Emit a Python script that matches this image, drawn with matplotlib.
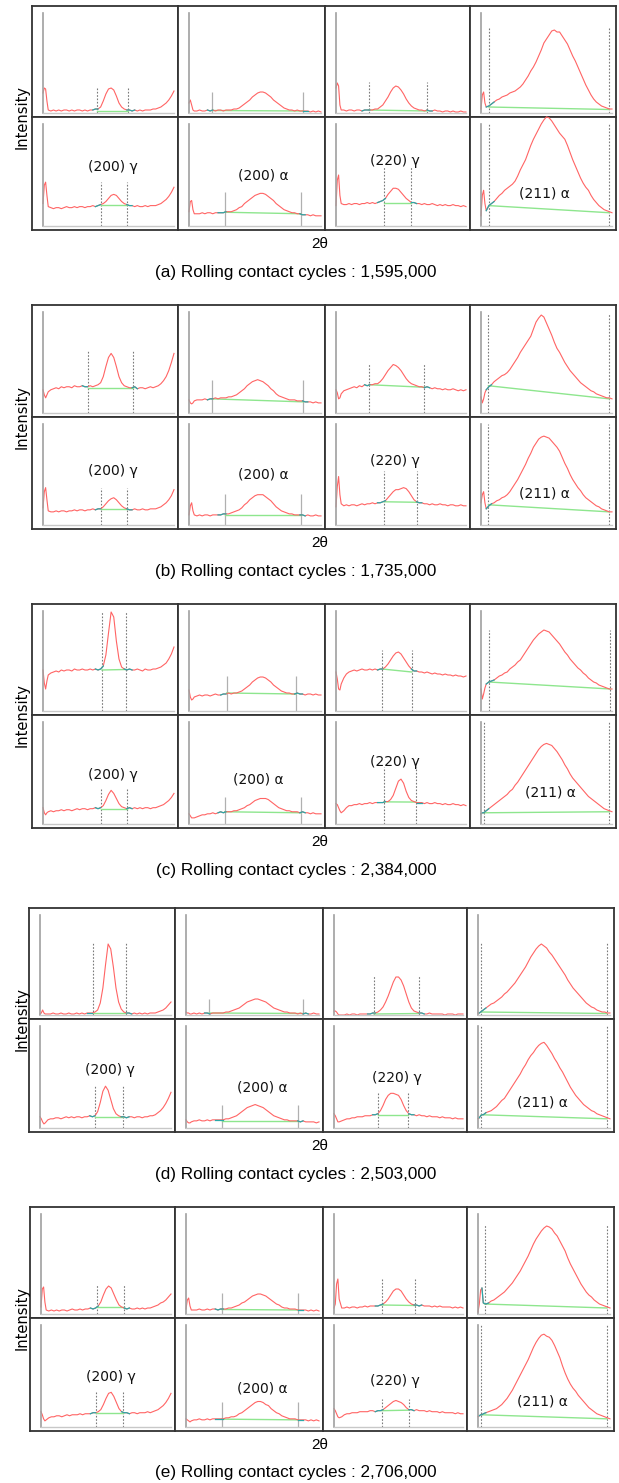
import numpy as np
import matplotlib.pyplot as plt

W, H = 619, 1483

# common 2theta grid of every window (0-100 = width of the inner axis)
X = [0, 1, 2, 3, 4] + list(range(6, 101, 2))

CYCLES = ['1,595,000', '1,735,000', '2,384,000', '2,503,000', '2,706,000']
LETTERS = ['a', 'b', 'c', 'd', 'e']
LABELS = ['(200) γ', '(200) α', '(220) γ', '(211) α']

# intensity, one list per window (4 windows per row)
a_top = [
    [20, 25, 24, 12, 3, 2, 3, 2, 3, 2, 3, 3, 2, 3, 2, 3, 3, 2, 3, 2, 3, 3, 4,
     4, 6, 12, 19, 24, 25, 23, 17, 10, 6, 4, 3, 3, 2, 3, 2, 3, 2, 3, 3, 3, 4, 4, 5, 6, 8, 10, 13, 17, 22],
    [10, 13, 8, 3, 2, 2, 3, 2, 2, 3, 2, 3, 2, 3, 3, 2, 3, 3, 3, 4, 4, 5, 7,
     9, 11, 13, 16, 18, 20, 21, 21, 20, 18, 16, 13, 11, 9, 7, 5, 4, 3, 3, 2, 3, 2, 2, 2, 2, 1, 2, 1, 2, 1],
    [25, 30, 27, 8, 3, 3, 2, 3, 3, 2, 3, 3, 2, 3, 3, 3, 3, 4, 4, 6, 8, 12, 16,
     21, 25, 27, 26, 23, 19, 14, 10, 7, 5, 4, 3, 3, 2, 3, 2, 2, 3, 2, 2, 1, 2, 2, 1, 2, 1, 1, 2, 1, 1],
    [4, 18, 21, 10, 6, 7, 9, 11, 13, 14, 16, 17, 18, 20, 21, 22, 24, 26, 29, 33, 37, 42, 46,
     51, 57, 63, 70, 74, 78, 82, 83, 81, 81, 77, 73, 69, 63, 57, 52, 46, 40, 34, 28, 23, 18, 14, 11, 9, 7, 6, 5, 4, 4],
]
a_bot = [
    [22, 40, 43, 30, 19, 18, 17, 18, 18, 17, 18, 19, 18, 18, 19, 18, 19, 19, 18, 19, 19, 20, 19,
     20, 21, 22, 24, 27, 30, 31, 30, 27, 24, 22, 21, 20, 20, 19, 20, 19, 19, 20, 19, 20, 20, 20, 21, 22, 24, 26, 29, 33, 38],
    [14, 24, 25, 16, 12, 12, 12, 13, 12, 13, 13, 12, 13, 13, 13, 13, 14, 14, 14, 15, 16, 18, 19,
     22, 24, 26, 28, 30, 31, 32, 32, 31, 29, 27, 25, 22, 20, 18, 16, 15, 14, 13, 13, 12, 12, 11, 11, 11, 10, 11, 10, 10, 10],
    [20, 45, 50, 30, 22, 21, 21, 22, 21, 22, 22, 21, 22, 22, 23, 22, 23, 22, 23, 24, 25, 27, 31,
     34, 37, 37, 36, 33, 30, 27, 25, 23, 23, 22, 22, 21, 22, 21, 21, 22, 21, 20, 21, 20, 21, 20, 20, 21, 20, 20, 19, 20, 19],
    [10, 30, 35, 22, 15, 20, 22, 24, 27, 30, 32, 35, 37, 39, 41, 44, 49, 55, 60, 65, 72, 79, 85,
     90, 95, 100, 104, 107, 106, 103, 99, 95, 91, 88, 85, 79, 72, 65, 59, 53, 47, 42, 38, 35, 30, 26, 23, 20, 18, 16, 15, 14, 13],
]
b_top = [
    [23, 18, 15, 18, 21, 23, 24, 25, 24, 26, 25, 26, 26, 25, 27, 26, 26, 27, 26, 26, 27, 26, 27,
     28, 30, 36, 46, 55, 59, 55, 46, 36, 30, 27, 26, 25, 25, 26, 24, 25, 25, 24, 25, 26, 25, 26, 27, 29, 32, 36, 42, 50, 59],
    [13, 10, 9, 10, 12, 13, 13, 13, 14, 13, 14, 14, 15, 14, 15, 15, 15, 16, 16, 17, 18, 20, 22,
     24, 27, 29, 31, 32, 33, 32, 31, 29, 27, 24, 22, 19, 17, 16, 15, 14, 13, 13, 13, 12, 12, 12, 11, 11, 11, 10, 11, 10, 10],
    [23, 20, 14, 15, 19, 22, 23, 24, 25, 26, 25, 27, 26, 28, 27, 28, 28, 29, 29, 31, 34, 38, 42,
     45, 48, 47, 45, 42, 38, 34, 31, 29, 28, 27, 26, 26, 25, 26, 25, 24, 25, 24, 24, 23, 24, 23, 23, 24, 23, 22, 23, 22, 23],
    [16, 10, 14, 20, 23, 26, 28, 31, 33, 35, 37, 38, 40, 43, 47, 51, 55, 60, 64, 68, 72, 76, 83,
     90, 94, 97, 95, 89, 83, 77, 70, 64, 60, 55, 50, 46, 42, 39, 36, 33, 30, 28, 26, 24, 22, 21, 19, 18, 17, 16, 15, 15, 14],
]
b_bot = [
    [17, 33, 37, 25, 14, 13, 13, 14, 13, 14, 14, 13, 14, 14, 15, 14, 15, 15, 14, 15, 15, 16, 15,
     16, 16, 18, 21, 24, 26, 27, 25, 22, 19, 17, 16, 15, 15, 16, 15, 15, 16, 15, 15, 16, 16, 16, 17, 18, 20, 22, 25, 29, 35],
    [10, 19, 22, 14, 10, 9, 10, 9, 10, 10, 9, 10, 10, 10, 10, 11, 11, 11, 12, 13, 14, 15, 17,
     20, 22, 25, 27, 29, 30, 30, 30, 28, 26, 24, 21, 18, 16, 14, 13, 12, 11, 11, 10, 10, 10, 10, 9, 10, 9, 9, 10, 9, 9],
    [18, 38, 48, 30, 21, 19, 20, 19, 20, 20, 19, 20, 21, 20, 21, 21, 22, 21, 22, 22, 23, 24, 27,
     30, 33, 35, 35, 36, 37, 36, 33, 29, 25, 23, 22, 22, 21, 21, 20, 21, 20, 20, 21, 20, 20, 19, 20, 20, 19, 19, 20, 19, 19],
    [22, 30, 33, 22, 16, 19, 21, 22, 24, 25, 27, 28, 30, 33, 37, 41, 45, 50, 55, 60, 66, 71, 77,
     81, 85, 87, 88, 87, 86, 83, 80, 77, 73, 67, 61, 56, 50, 45, 41, 37, 34, 30, 27, 25, 23, 21, 19, 18, 16, 15, 14, 13, 13],
]
c_top = [
    [41, 28, 22, 30, 36, 38, 39, 40, 39, 41, 40, 41, 41, 40, 42, 41, 41, 42, 41, 41, 42, 41, 42,
     41, 42, 45, 56, 78, 99, 94, 70, 52, 44, 42, 41, 42, 41, 41, 42, 41, 40, 42, 41, 41, 42, 42, 43, 44, 46, 48, 52, 57, 64],
    [21, 14, 11, 12, 14, 15, 16, 15, 16, 16, 15, 16, 17, 16, 16, 17, 17, 18, 17, 18, 18, 19, 20,
     22, 24, 26, 29, 31, 33, 34, 34, 33, 31, 29, 26, 24, 22, 20, 19, 18, 18, 17, 17, 18, 17, 17, 16, 17, 17, 16, 17, 16, 16],
    [39, 32, 22, 21, 27, 33, 37, 39, 40, 41, 40, 41, 42, 41, 41, 42, 41, 42, 41, 42, 42, 44, 47,
     51, 55, 58, 59, 57, 53, 49, 45, 42, 40, 40, 39, 39, 38, 39, 38, 37, 38, 37, 37, 36, 37, 36, 36, 35, 36, 35, 35, 34, 35],
    [22, 12, 17, 23, 27, 29, 30, 31, 33, 35, 36, 38, 39, 42, 44, 46, 49, 51, 55, 59, 63, 67, 71,
     74, 77, 79, 81, 80, 79, 76, 73, 70, 67, 63, 59, 56, 52, 49, 46, 43, 41, 38, 36, 33, 31, 29, 28, 26, 25, 24, 23, 22, 22],
]
c_bot = [
    [16, 11, 9, 11, 12, 13, 12, 13, 13, 14, 13, 14, 14, 13, 14, 15, 14, 15, 15, 14, 15, 15, 16,
     15, 16, 18, 23, 29, 33, 30, 25, 20, 17, 16, 15, 16, 15, 16, 15, 16, 15, 16, 16, 15, 16, 16, 17, 18, 19, 21, 23, 26, 30],
    [10, 8, 6, 6, 6, 7, 8, 9, 9, 10, 10, 11, 10, 11, 12, 11, 12, 12, 12, 13, 13, 14, 15,
     16, 18, 19, 21, 23, 24, 25, 25, 25, 24, 22, 20, 18, 16, 15, 14, 13, 13, 12, 12, 12, 11, 12, 11, 11, 10, 11, 10, 10, 10],
    [20, 19, 16, 13, 11, 13, 16, 18, 18, 19, 19, 20, 19, 20, 20, 21, 20, 21, 21, 21, 21, 22, 22,
     24, 28, 35, 42, 44, 40, 32, 26, 23, 22, 21, 21, 21, 20, 21, 20, 20, 21, 20, 20, 19, 20, 19, 19, 20, 19, 19, 18, 19, 18],
    [10, 11, 11, 12, 13, 15, 17, 19, 21, 23, 25, 27, 29, 32, 34, 38, 41, 45, 49, 53, 57, 61, 65,
     69, 73, 76, 78, 79, 78, 77, 74, 71, 67, 63, 58, 54, 49, 45, 42, 39, 36, 33, 30, 27, 25, 23, 21, 19, 17, 15, 14, 13, 12],
]
d_top = [
    [1, 2, 5, 2, 1, 1, 1, 2, 1, 1, 2, 1, 1, 2, 1, 1, 2, 1, 2, 1, 2, 2, 2,
     3, 5, 12, 27, 50, 71, 66, 48, 27, 13, 6, 3, 2, 2, 1, 2, 1, 2, 1, 2, 1, 2, 2, 2, 3, 4, 5, 7, 10, 13],
    [3, 2, 2, 1, 1, 2, 1, 2, 1, 2, 2, 1, 2, 2, 2, 2, 2, 3, 3, 4, 5, 6, 7,
     9, 11, 13, 14, 15, 16, 16, 15, 14, 13, 11, 9, 7, 6, 5, 4, 3, 3, 2, 2, 2, 1, 2, 1, 2, 1, 1, 2, 1, 1],
    [4, 4, 3, 1, 0, 0, 0, 1, 0, 1, 1, 0, 1, 1, 1, 1, 1, 2, 2, 3, 5, 8, 13,
     19, 26, 33, 38, 38, 35, 29, 21, 13, 7, 4, 3, 2, 2, 1, 1, 2, 1, 1, 1, 1, 1, 0, 1, 1, 1, 0, 1, 1, 1],
    [2, 2, 3, 4, 5, 7, 9, 11, 12, 14, 16, 18, 21, 23, 26, 29, 32, 36, 40, 44, 48, 53, 58,
     62, 66, 69, 71, 69, 67, 63, 60, 56, 52, 48, 44, 40, 35, 31, 27, 24, 21, 18, 15, 12, 10, 8, 7, 5, 4, 3, 3, 2, 2],
]
d_bot = [
    [11, 9, 6, 4, 5, 8, 9, 9, 10, 10, 9, 10, 11, 10, 11, 10, 11, 11, 10, 11, 11, 12, 11,
     12, 16, 25, 36, 41, 37, 28, 19, 14, 12, 11, 11, 10, 11, 11, 10, 11, 11, 10, 11, 11, 12, 12, 13, 15, 17, 20, 24, 29, 35],
    [8, 6, 5, 5, 6, 7, 7, 8, 7, 7, 8, 7, 8, 8, 8, 8, 8, 9, 9, 10, 11, 12, 14,
     16, 18, 20, 21, 22, 23, 22, 21, 20, 18, 16, 14, 12, 11, 10, 9, 8, 8, 7, 7, 7, 7, 6, 7, 6, 6, 6, 6, 5, 6],
    [14, 12, 9, 6, 6, 7, 8, 9, 9, 10, 10, 11, 11, 11, 12, 12, 12, 13, 13, 14, 17, 22, 28,
     32, 34, 34, 33, 32, 28, 22, 17, 14, 13, 13, 12, 13, 12, 12, 11, 12, 11, 11, 11, 10, 11, 10, 10, 10, 9, 10, 9, 9, 9],
    [9, 10, 12, 13, 13, 15, 16, 17, 19, 21, 24, 27, 29, 33, 37, 41, 45, 49, 53, 58, 62, 67, 71,
     74, 78, 81, 83, 84, 81, 77, 73, 68, 64, 59, 55, 50, 45, 40, 36, 32, 29, 26, 23, 21, 19, 17, 16, 14, 13, 12, 11, 10, 9],
]
e_top = [
    [7, 25, 27, 12, 4, 3, 4, 3, 4, 3, 4, 4, 3, 4, 5, 4, 4, 5, 4, 5, 5, 6, 5,
     6, 8, 12, 19, 25, 28, 26, 20, 14, 9, 7, 6, 5, 6, 5, 5, 6, 5, 6, 5, 6, 6, 7, 8, 9, 11, 12, 14, 17, 20],
    [5, 14, 16, 8, 4, 4, 4, 5, 4, 4, 5, 4, 5, 5, 4, 5, 5, 5, 6, 6, 7, 8, 9,
     11, 12, 14, 16, 18, 19, 20, 20, 19, 18, 16, 14, 12, 10, 9, 7, 6, 6, 5, 5, 5, 4, 4, 4, 4, 3, 4, 3, 4, 3],
    [6, 10, 30, 35, 15, 6, 6, 7, 6, 7, 7, 6, 7, 7, 8, 7, 8, 8, 8, 8, 9, 10, 12,
     15, 19, 23, 25, 25, 23, 19, 15, 12, 10, 9, 9, 8, 9, 8, 8, 8, 7, 8, 7, 8, 7, 7, 7, 7, 6, 7, 6, 7, 6],
    [2, 10, 24, 26, 11, 10, 11, 13, 14, 16, 18, 20, 22, 25, 28, 31, 35, 39, 43, 48, 53, 58, 64,
     70, 75, 79, 83, 86, 88, 87, 85, 81, 78, 73, 68, 63, 56, 50, 45, 40, 35, 30, 26, 22, 19, 17, 14, 12, 10, 9, 8, 7, 6],
]
e_bot = [
    [15, 12, 8, 6, 7, 9, 10, 10, 11, 11, 10, 11, 12, 11, 12, 12, 12, 13, 12, 13, 13, 13, 14,
     14, 15, 17, 22, 28, 33, 34, 30, 24, 18, 15, 14, 14, 13, 14, 14, 13, 14, 14, 14, 15, 14, 15, 16, 17, 19, 21, 24, 28, 33],
    [8, 7, 6, 5, 6, 7, 7, 8, 7, 7, 8, 7, 8, 8, 8, 8, 8, 9, 9, 10, 10, 11, 13,
     14, 16, 18, 20, 22, 24, 25, 25, 24, 22, 21, 18, 16, 14, 13, 11, 10, 9, 8, 8, 8, 7, 7, 7, 7, 6, 7, 6, 7, 6],
    [18, 16, 13, 10, 9, 10, 12, 13, 13, 14, 14, 14, 15, 15, 15, 15, 16, 16, 15, 16, 16, 17, 19,
     21, 23, 25, 26, 25, 24, 22, 19, 17, 17, 16, 17, 16, 16, 16, 15, 16, 15, 15, 15, 14, 15, 14, 14, 14, 14, 13, 14, 13, 13],
    [10, 11, 12, 12, 13, 14, 15, 16, 17, 18, 20, 22, 25, 28, 32, 36, 41, 46, 51, 56, 61, 66, 72,
     78, 83, 87, 90, 91, 89, 88, 85, 80, 74, 68, 60, 53, 47, 42, 38, 35, 31, 28, 25, 22, 19, 17, 15, 13, 12, 11, 10, 9, 8],
]

# integration window: (left bound, right bound, height of the marker lines)
a_win = [[(41.5, 65, 26), (17.5, 86.7, 21), (25, 70, 31), (6, 98, 85)],
         [(44, 64, 43), (27, 84.6, 33), (37, 58, 58), (6, 98, 100)]]
b_win = [[(34, 68.7, 61), (17.5, 86.7, 33), (25.5, 67.7, 49), (5.7, 98, 98)],
         [(44, 64, 37), (27, 84.6, 31), (37, 62, 53), (5.7, 98, 100)]]
c_win = [[(45, 63, 100), (28.5, 81, 35), (35.4, 58.3, 61), (6, 98.8, 81)],
         [(44, 64, 34), (27, 84.8, 26), (37, 61.6, 56), (2, 98, 100)]]
d_win = [[(40.7, 65.6, 73), (17.3, 88, 16), (31, 65.6, 40), (2.5, 97.7, 73)],
         [(42, 63, 41), (27, 84, 23), (34, 57.7, 34), (2.5, 97.7, 100)]]
e_win = [[(43, 63.6, 29), (27, 84, 21), (37, 63, 36), (5, 97.7, 90)],
         [(42, 63, 35), (27, 84, 25), (37, 58, 27), (2.5, 97.7, 100)]]

# background line (y at left bound, y at right bound)
a_bg = [[(2.5, 2.5), (2.5, 2), (3, 2), (6, 3.5)], [(21, 21), (13.5, 12), (23, 23), (20, 13)]]
b_bg = [[(25, 25), (14, 11), (28, 25.5), (27, 14)], [(15.5, 15.5), (10, 10), (23, 22.5), (20, 13)]]
c_bg = [[(41, 41.5), (18, 17), (42, 39), (29, 22)], [(15, 15), (12, 11), (21.7, 21.5), (11, 12)]]
d_bg = [[(2, 2), (2, 1.5), (1, 1.5), (3, 1.5)], [(11, 11), (7, 7), (13, 13), (13, 9)]]
e_bg = [[(6.7, 6.7), (4.5, 4), (9, 8.5), (10, 6)], [(14, 14), (7.7, 7), (16, 16.5), (12, 8)]]

SPECTRA = [(a_top, a_bot), (b_top, b_bot), (c_top, c_bot), (d_top, d_bot), (e_top, e_bot)]
WINDOWS = [a_win, b_win, c_win, d_win, e_win]
BACKGR = [a_bg, b_bg, c_bg, d_bg, e_bg]

# layout in pixels: left, right, top, middle, bottom, column cuts
BLOCKS = [
    (32, 616, 6, 117, 230, [178, 325, 470]),
    (32, 616, 305, 417, 529, [178, 325, 470]),
    (32, 616, 604, 715, 828, [178, 325, 470]),
    (29, 614, 908, 1019, 1132, [175, 323, 467]),
    (30, 614, 1207, 1318, 1431, [175, 323, 467]),
]
# label centres as fraction of the lower windows (from left, from top)
LABEL_POS = [
    [(.555, .44), (.58, .52), (.48, .39), (.51, .68)],
    [(.555, .48), (.58, .51), (.48, .39), (.51, .68)],
    [(.555, .53), (.545, .57), (.48, .42), (.55, .69)],
    [(.555, .45), (.59, .61), (.51, .52), (.51, .74)],
    [(.555, .52), (.59, .62), (.50, .56), (.51, .74)],
]

RED = '#ff6464'
GREEN = '#8ee68e'
CYAN = '#2aa8a8'


def box(x0, y0, x1, y1):
    return [x0 / W, 1 - y1 / H, (x1 - x0) / W, (y1 - y0) / H]


fig = plt.figure(figsize=(W / 100, H / 100), dpi=100)
xa = np.array(X)

for bi, (left, right, top, mid, bot, cuts) in enumerate(BLOCKS):
    edges = [left] + cuts + [right]
    rows = [(top, mid), (mid, bot)]
    for r in range(2):
        for c in range(4):
            px0, px1 = edges[c], edges[c + 1]
            py0, py1 = rows[r]
            outer = fig.add_axes(box(px0, py0, px1, py1))
            outer.set_xticks([])
            outer.set_yticks([])
            for s in outer.spines.values():
                s.set_color('#333333')
                s.set_linewidth(1.3)

            ax = fig.add_axes(box(px0 + 11, py0 + 7, px1 - 4, py1 - 4))
            ax.patch.set_alpha(0)
            ax.set_xlim(0, 100)
            ax.set_ylim(0, 100)
            ax.set_xticks([])
            ax.set_yticks([])
            ax.spines['top'].set_visible(False)
            ax.spines['right'].set_visible(False)
            ax.spines['left'].set_color('#a0a0a0')
            ax.spines['left'].set_linewidth(1.2)
            ax.spines['bottom'].set_color('#c8c8c8')
            ax.spines['bottom'].set_linewidth(1.0)

            ya = np.array(SPECTRA[bi][r][c])
            l1, l2, hgt = WINDOWS[bi][r][c]
            yb1, yb2 = BACKGR[bi][r][c]

            if c == 1:
                ax.vlines([l1, l2], 0, hgt, colors='#b0b0b0', lw=0.9)
            else:
                ax.vlines([l1, l2], 0, hgt, colors='#7a7a7a', lw=0.8,
                          linestyles=(0, (1.5, 1.5)))
            ax.plot([l1, l2], [yb1, yb2], color=GREEN, lw=1.0)
            ax.plot(xa, ya, color=RED, lw=0.8, clip_on=False)
            if c < 3:
                segs = [(l1 - 5, l1 + 1), (l2 - 1, l2 + 5)]
            else:
                segs = [(l1 - 2, l1 + 4)]
            for lo, hi in segs:
                m = (xa >= lo) & (xa <= hi)
                ax.plot(xa[m], ya[m], color=CYAN, lw=0.9, clip_on=False)

            if r == 1:
                fx, fy = LABEL_POS[bi][c]
                outer.text(fx, 1 - fy, LABELS[c], transform=outer.transAxes,
                           ha='center', va='center', fontsize=10,
                           family='DejaVu Sans', color='#111111')

    fig.text(22 / W, 1 - mid / H, 'Intensity', rotation=90, ha='center',
             va='center', fontsize=10.5, family='DejaVu Sans')
    fig.text(320 / W, 1 - (bot + 14) / H, '2θ', ha='center', va='center',
             fontsize=11, family='Liberation Sans')
    fig.text(296 / W, 1 - (bot + 42) / H,
             '(%s) Rolling contact cycles : %s' % (LETTERS[bi], CYCLES[bi]),
             ha='center', va='center', fontsize=12.3, family='Liberation Sans')

fig.savefig('out.png', dpi=100)
